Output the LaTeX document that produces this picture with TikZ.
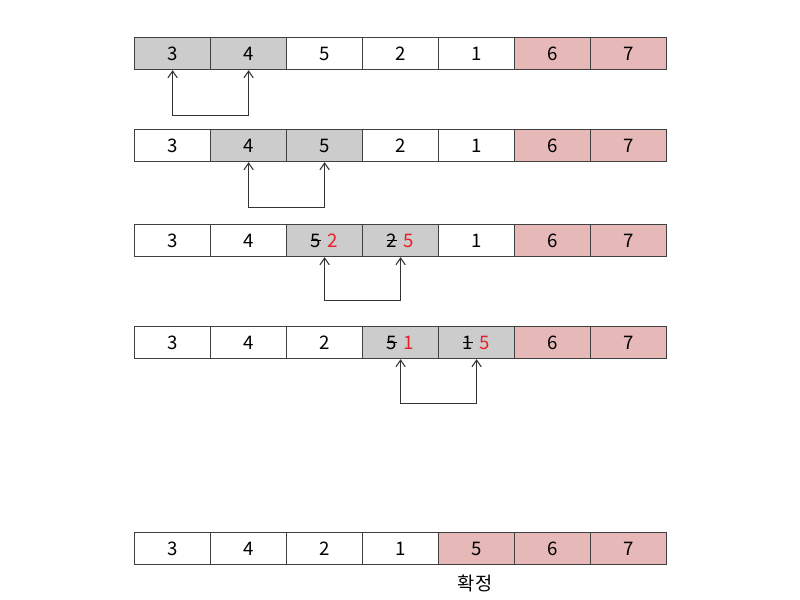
\documentclass[tikz,border=0pt]{standalone}
\usepackage{fontspec}
\setmainfont{Noto Sans CJK KR}
\usetikzlibrary{arrows.meta}
\definecolor{selgray}{HTML}{CCCCCC}
\definecolor{donepink}{HTML}{E6B8B8}
\definecolor{swapred}{HTML}{E8202A}
\newcommand\strk[1]{\makebox[0pt][l]{\rule[0.33em]{0.56em}{0.55pt}}#1}
\newcommand\swp[2]{\strk{#1}\hspace{0.35em}\textcolor{swapred}{#2}}
\tikzset{
  cell/.style={draw=black!75, line width=0.9pt, minimum width=57pt, minimum height=24pt, inner sep=0pt, anchor=north west, font=\fontsize{14}{16}\selectfont},
  sel/.style={cell, fill=selgray},
  done/.style={cell, fill=donepink},
  plain/.style={cell, fill=white},
  swap/.style={draw=black!80, line width=0.8pt, {Straight Barb[length=5pt,width=7pt]}-{Straight Barb[length=5pt,width=7pt]}}
}
\begin{document}
\begin{tikzpicture}[x=0.75pt,y=-0.75pt]
\useasboundingbox (0,0) rectangle (800,600);
% row 1
\node[sel]   (r1c1) at (134,37) {3};
\node[sel]   (r1c2) at (210,37) {4};
\node[plain] (r1c3) at (286,37) {5};
\node[plain] (r1c4) at (362,37) {2};
\node[plain] (r1c5) at (438,37) {1};
\node[done]  (r1c6) at (514,37) {6};
\node[done]  (r1c7) at (590,37) {7};
\draw[swap] (r1c1.south) -- ++(0,45) -| (r1c2.south);
% row 2
\node[plain] (r2c1) at (134,129) {3};
\node[sel]   (r2c2) at (210,129) {4};
\node[sel]   (r2c3) at (286,129) {5};
\node[plain] (r2c4) at (362,129) {2};
\node[plain] (r2c5) at (438,129) {1};
\node[done]  (r2c6) at (514,129) {6};
\node[done]  (r2c7) at (590,129) {7};
\draw[swap] (r2c2.south) -- ++(0,45) -| (r2c3.south);
% row 3
\node[plain] (r3c1) at (134,224) {3};
\node[plain] (r3c2) at (210,224) {4};
\node[sel]   (r3c3) at (286,224) {\swp{5}{2}};
\node[sel]   (r3c4) at (362,224) {\swp{2}{5}};
\node[plain] (r3c5) at (438,224) {1};
\node[done]  (r3c6) at (514,224) {6};
\node[done]  (r3c7) at (590,224) {7};
\draw[swap] (r3c3.south) -- ++(0,43) -| (r3c4.south);
% row 4
\node[plain] (r4c1) at (134,326) {3};
\node[plain] (r4c2) at (210,326) {4};
\node[plain] (r4c3) at (286,326) {2};
\node[sel]   (r4c4) at (362,326) {\swp{5}{1}};
\node[sel]   (r4c5) at (438,326) {\swp{1}{5}};
\node[done]  (r4c6) at (514,326) {6};
\node[done]  (r4c7) at (590,326) {7};
\draw[swap] (r4c4.south) -- ++(0,44) -| (r4c5.south);
% row 5
\node[plain] (r5c1) at (134,532) {3};
\node[plain] (r5c2) at (210,532) {4};
\node[plain] (r5c3) at (286,532) {2};
\node[plain] (r5c4) at (362,532) {1};
\node[done]  (r5c5) at (438,532) {5};
\node[done]  (r5c6) at (514,532) {6};
\node[done]  (r5c7) at (590,532) {7};
\node[font=\fontsize{14}{16}\selectfont, anchor=center] (fixed) at (475,583) {확정};
\end{tikzpicture}
\end{document}
